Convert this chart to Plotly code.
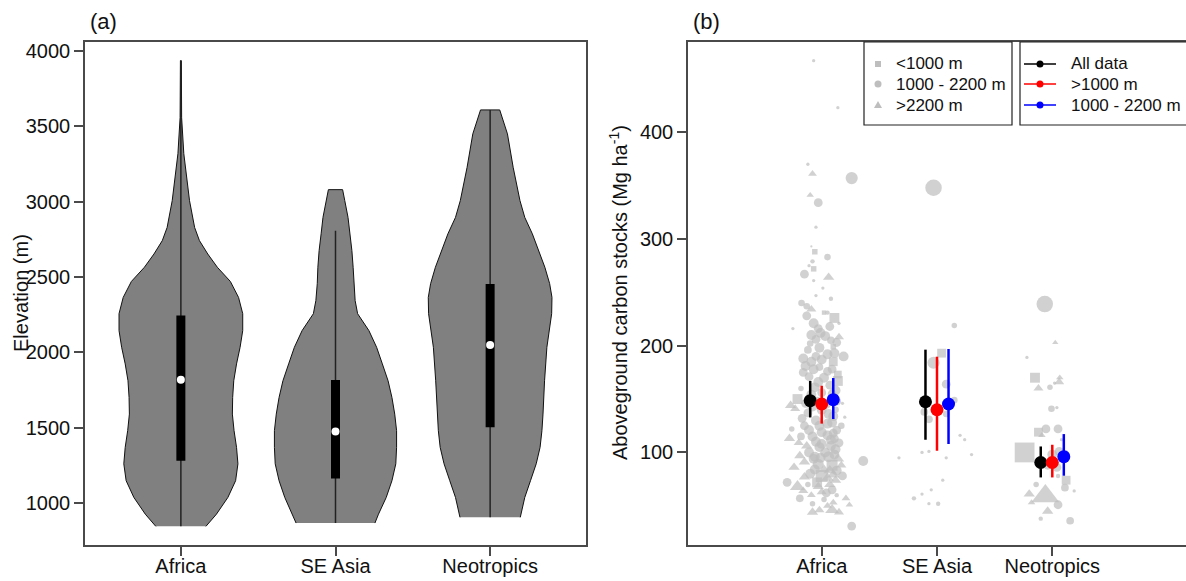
import plotly.graph_objects as go

W, H = 1186, 581

# ---------------- data: panel (a) violins (elevation, half-width) ----------------
regions = ["Africa", "SE Asia", "Neotropics"]
reg_pos = [1, 2, 3]

afr_elev = [845, 926, 1037, 1148, 1260, 1369, 1480, 1590, 1700, 1811, 1923, 2033, 2144, 2256,
            2364, 2470, 2564, 2652, 2741, 2828, 3006, 3186, 3318, 3557, 3935]
afr_hw = [0.162, 0.23, 0.304, 0.354, 0.369, 0.36, 0.344, 0.333, 0.335, 0.342, 0.36, 0.383, 0.40, 0.40,
          0.373, 0.32, 0.236, 0.174, 0.12, 0.089, 0.056, 0.035, 0.019, 0.005, 0.003]

sea_elev = [867, 926, 1037, 1148, 1260, 1369, 1480, 1590, 1700, 1811, 1923, 2033, 2144, 2256,
            2343, 2455, 2564, 2675, 2786, 2895, 3006, 3079]
sea_hw = [0.255, 0.278, 0.328, 0.365, 0.39, 0.395, 0.395, 0.383, 0.365, 0.34, 0.303, 0.266, 0.216, 0.143,
          0.127, 0.118, 0.114, 0.106, 0.093, 0.081, 0.06, 0.046]

neo_elev = [905, 1037, 1148, 1260, 1369, 1480, 1590, 1811, 2033, 2144, 2256, 2364, 2455, 2564,
            2675, 2786, 2895, 3006, 3227, 3449, 3608]
neo_hw = [0.195, 0.224, 0.261, 0.298, 0.323, 0.335, 0.342, 0.352, 0.367, 0.381, 0.398, 0.40, 0.385, 0.354,
          0.311, 0.273, 0.224, 0.193, 0.149, 0.112, 0.062]

# whisker min / max, quartiles, median
elev_wlo = [845, 867, 905]
elev_whi = [3935, 2807, 3608]
elev_q1 = [1281, 1163, 1502]
elev_q3 = [2244, 1816, 2453]
elev_med = [1818, 1475, 2048]

# ---------------- data: panel (b) plots (jitter offset, AGC, marker size, shape) ----------------
# shape: s = <1000 m, c = 1000-2200 m, t = >2200 m
afr_off = [-0.07, 0.14, -0.12, -0.08, 0.26, -0.10, -0.03, -0.05, -0.09, -0.06, 0.05, -0.08, -0.11, -0.07,
           -0.15, 0.06, -0.07, 0.01, -0.05, 0.08, -0.175, -0.13, -0.09, 0.02, 0.05, 0.11, 0.15, -0.25,
           -0.07, -0.03, -0.01, 0.03, -0.05, 0.15, 0.08, -0.10, 0.10, 0.11, -0.12, 0.19, -0.16, -0.05,
           0.0, 0.10, -0.14, -0.07, -0.02, 0.05, 0.14, 0.14, -0.11, -0.03, 0.07, -0.18, 0.12, 0.0,
           -0.09, -0.21, -0.27, -0.23, 0.18, 0.0, -0.12, 0.10, 0.20, -0.05, 0.05, -0.15, 0.13, -0.26,
           0.0, -0.08, -0.28, -0.20, 0.08, 0.15, -0.02, 0.12, 0.03, -0.11, 0.36, -0.19, 0.06, 0.14,
           -0.15, -0.03, 0.09, -0.24, 0.02, 0.13, -0.10, 0.0, 0.05, 0.10, -0.30, -0.21, -0.12, -0.16,
           0.0, 0.09, -0.09, 0.21, 0.02, 0.13, -0.08, -0.08, 0.09, 0.05, 0.15, 0.26, 0.24, 0.04,
           0.08, -0.04, 0.12, -0.18, 0.17, 0.10, -0.06, 0.07, -0.04,
           -0.13, 0.07, -0.09, 0.13, -0.02, 0.05, -0.09, 0.09, -0.16, 0.02, -0.06, 0.09, -0.14, 0.13,
           -0.08, 0.06, -0.17, -0.02, 0.09, -0.11, 0.05, -0.05, 0.11, -0.13, 0.00, 0.08, -0.07, 0.11,
           -0.01, 0.17, -0.06, 0.07, -0.15, 0.12, -0.03, 0.04, -0.19, 0.10, -0.02, 0.18]
afr_val = [467, 423, 370, 361, 357, 341, 334, 311, 293, 288, 283, 279, 275, 272,
           267, 264, 261, 254, 247, 244, 240, 237, 234, 231, 231, 226, 221, 216,
           221, 216, 212, 209, 206, 208, 205, 202, 199, 193, 196, 190, 188, 190,
           187, 185, 181, 178, 180, 176, 173, 167, 171, 166, 163, 160, 158, 156,
           154, 150, 144, 141, 146, 140, 137, 134, 133, 130, 127, 125, 121, 122,
           119, 115, 113, 109, 112, 109, 105, 103, 100, 100, 92, 97, 96, 94,
           91, 89, 88, 86, 84, 83, 80, 78, 76, 79, 72, 68, 70, 64,
           63, 65, 60, 57, 56, 60, 52, 44, 46, 50, 44, 31, 51, 145,
           150, 148, 140, 115, 125, 118, 96, 70, 72,
           228, 218, 210, 203, 198, 192, 185, 178, 175, 170, 161, 155, 146, 148,
           143, 136, 132, 125, 128, 121, 116, 110, 113, 106, 108, 106, 94, 98,
           95, 88, 84, 83, 77, 74, 68, 62, 57, 53, 46, 78]
afr_size = [3, 3, 3, 7, 11, 6, 8, 3, 2, 5, 6, 4, 3, 5,
            8, 9, 3, 3, 3, 4, 6, 6, 8, 4, 4, 9, 3, 3,
            9, 8, 9, 9, 8, 8, 7, 6, 5, 9, 7, 9, 9, 8,
            9, 8, 9, 9, 7, 8, 7, 9, 8, 9, 8, 5, 9, 8,
            9, 9, 9, 8, 3, 9, 8, 9, 3, 9, 9, 8, 8, 5,
            9, 9, 9, 8, 9, 8, 9, 9, 9, 9, 9, 9, 10, 10,
            9, 10, 10, 9, 9, 9, 9, 11, 10, 10, 8, 12, 5, 8,
            8, 8, 7, 7, 5, 4, 5, 9, 11, 7, 8, 8, 6, 8,
            7, 8, 6, 7, 6, 8, 9, 9, 9,
            8, 8, 9, 8, 9, 9, 9, 8, 8, 9, 9, 8, 8, 8,
            9, 9, 8, 9, 9, 9, 9, 9, 8, 9, 9, 9, 9, 9,
            9, 8, 9, 10, 9, 9, 9, 8, 7, 7, 8, 8]
afr_shape = ["c", "c", "c", "t", "c", "t", "c", "c", "c", "s", "c", "c", "c", "s",
             "c", "t", "c", "c", "c", "c", "c", "c", "t", "s", "c", "s", "c", "c",
             "c", "c", "c", "c", "c", "t", "c", "c", "s", "c", "c", "c", "c", "c",
             "c", "s", "c", "c", "c", "c", "s", "s", "c", "c", "c", "c", "c", "c",
             "c", "s", "t", "t", "c", "c", "c", "c", "c", "c", "c", "c", "c", "c",
             "c", "c", "t", "t", "c", "c", "c", "c", "c", "c", "c", "t", "c", "t",
             "t", "c", "s", "t", "t", "c", "c", "s", "t", "t", "c", "t", "c", "t",
             "t", "c", "t", "t", "c", "c", "c", "t", "t", "t", "t", "c", "t", "c",
             "c", "c", "c", "c", "c", "c", "c", "t", "s",
             "c", "c", "c", "c", "c", "c", "c", "c", "c", "c", "c", "c", "c", "c",
             "c", "c", "c", "c", "c", "c", "c", "c", "c", "t", "c", "c", "c", "c",
             "c", "t", "c", "t", "t", "t", "t", "c", "c", "t", "t", "c"]

sea_off = [-0.03, 0.15, 0.04, -0.03, 0.08, 0.15, 0.10, -0.11, -0.07, 0.08, 0.20, -0.13, -0.07, 0.08,
           0.30, -0.33, 0.05, -0.05, -0.20, -0.13, 0.01, -0.07, 0.24]
sea_val = [348, 219, 193, 184, 164, 149, 144, 138, 131, 136, 116, 100, 101, 95,
           98, 95, 74, 65, 57, 61, 52, 52, 112]
sea_size = [15, 5, 8, 11, 8, 6, 6, 7, 7, 6, 3, 3, 3, 3,
            3, 3, 3, 3, 4, 3, 4, 3, 3]
sea_shape = ["c", "c", "s", "c", "c", "c", "c", "c", "c", "c", "c", "c", "c", "c",
             "c", "c", "c", "c", "c", "c", "c", "c", "c"]

neo_off = [-0.065, 0.026, -0.22, -0.15, -0.12, -0.02, 0.065, 0.06, 0.02, -0.007, 0.04, -0.055, 0.05,
           -0.12, -0.09, -0.24, 0.0, 0.06, 0.12, 0.12, -0.04, 0.04, -0.08, -0.20, -0.06, -0.18,
           0.05, -0.04, 0.11, 0.19, 0.155, -0.10, 0.05, 0.08, -0.14]
neo_val = [239, 203, 189, 170, 160, 161, 170, 166, 165, 141, 142, 122, 122,
           119, 116, 100, 98, 101, 100, 74, 88, 86, 92, 61, 59, 53,
           51, 45, 67, 64, 36, 38, 78, 112, 70]
neo_size = [15, 5, 3, 9, 8, 5, 6, 8, 3, 6, 3, 8, 8,
            8, 6, 18, 9, 8, 4, 8, 8, 8, 6, 9, 22, 6,
            8, 9, 7, 3, 7, 4, 4, 3, 5]
neo_shape = ["c", "t", "c", "s", "t", "c", "t", "t", "c", "c", "c", "c", "c",
             "s", "t", "s", "c", "c", "c", "s", "c", "c", "c", "t", "t", "t",
             "c", "t", "c", "c", "c", "c", "c", "c", "c"]

# means and 95% intervals: [All data, >1000 m, 1000-2200 m]
series_names = ["All data", ">1000 m", "1000 - 2200 m"]
series_colors = ["#000000", "#FF0000", "#0000FF"]
agc_mean = [[148.5, 147.5, 90.6], [145.4, 140.0, 90.6], [149.4, 145.4, 96.0]]
agc_lo = [[132.8, 111.9, 76.6], [127.0, 101.6, 76.6], [131.3, 107.9, 78.2]]
agc_hi = [[167.0, 196.3, 105.6], [162.5, 189.7, 107.2], [169.7, 196.9, 117.2]]

shape_names = ["<1000 m", "1000 - 2200 m", ">2200 m"]

# ---------------- figure ----------------
FONT = "Liberation Sans, Arial, sans-serif"
AX = "#4a4a4a"
GREY = "#BEBEBE"
sym = {"s": "square", "c": "circle", "t": "triangle-up"}

fig = go.Figure()

def px(x):
    return x / W

def py(y):
    return 1 - y / H

# Panel (a)
for i, (el, hw) in enumerate([(afr_elev, afr_hw), (sea_elev, sea_hw), (neo_elev, neo_hw)]):
    c = reg_pos[i]
    xs = [c + h for h in hw] + [c - h for h in reversed(hw)]
    ys = list(el) + list(reversed(el))
    fig.add_trace(go.Scatter(x=xs, y=ys, fill="toself", fillcolor="#808080", mode="lines",
                             line=dict(color="#111111", width=1), xaxis="x", yaxis="y",
                             showlegend=False, hoverinfo="skip"))
    fig.add_trace(go.Scatter(x=[c, c], y=[elev_wlo[i], elev_whi[i]], mode="lines",
                             line=dict(color="#222222", width=1.5), xaxis="x", yaxis="y",
                             showlegend=False, hoverinfo="skip"))
    fig.add_trace(go.Scatter(x=[c, c], y=[elev_q1[i], elev_q3[i]], mode="lines",
                             line=dict(color="#000000", width=9), xaxis="x", yaxis="y",
                             showlegend=False, hoverinfo="skip"))
    fig.add_trace(go.Scatter(x=[c], y=[elev_med[i]], mode="markers",
                             marker=dict(color="white", size=8), xaxis="x", yaxis="y",
                             showlegend=False, hoverinfo="skip"))

# Panel (b) grey points
for i, (off, val, size, shp) in enumerate([(afr_off, afr_val, afr_size, afr_shape),
                                             (sea_off, sea_val, sea_size, sea_shape),
                                             (neo_off, neo_val, neo_size, neo_shape)]):
    c = reg_pos[i]
    fig.add_trace(go.Scatter(x=[c + o for o in off], y=val, mode="markers",
                             marker=dict(color=GREY, size=[s * 1.1 for s in size],
                                         symbol=[sym[k] for k in shp], line=dict(width=0)),
                             xaxis="x2", yaxis="y2", showlegend=False))

# Panel (b) means with intervals
dodge = [-0.1, 0.0, 0.1]
for j in range(3):
    m = agc_mean[j]
    fig.add_trace(go.Scatter(
        x=[reg_pos[i] + dodge[j] for i in range(3)], y=m, mode="markers",
        marker=dict(color=series_colors[j], size=13),
        error_y=dict(type="data", symmetric=False,
                     array=[agc_hi[j][i] - m[i] for i in range(3)],
                     arrayminus=[m[i] - agc_lo[j][i] for i in range(3)],
                     color=series_colors[j], thickness=2.5, width=0),
        xaxis="x2", yaxis="y2", showlegend=False, name=series_names[j]))

axis_common = dict(showline=True, linecolor=AX, linewidth=1.5, ticks="outside", ticklen=9,
                   tickwidth=1.5, tickcolor=AX, showgrid=False, zeroline=False,
                   tickfont=dict(family=FONT, size=20, color="#111111"), automargin=False)

ydom = [py(545), py(42)]
fig.update_layout(
    width=W, height=H, margin=dict(l=0, r=0, t=0, b=0),
    paper_bgcolor="white", plot_bgcolor="white",
    font=dict(family=FONT, color="#111111"),
    xaxis=dict(domain=[px(85), px(586)], range=[0.38, 3.62], tickvals=reg_pos, ticktext=regions,
               anchor="y", mirror=True, ticklabelstandoff=-7, **axis_common),
    yaxis=dict(domain=ydom, range=[721.4, 4058.6], tickvals=[1000, 1500, 2000, 2500, 3000, 3500, 4000],
               anchor="x", mirror=True, **axis_common),
    xaxis2=dict(domain=[px(688), 1.0], range=[-0.16, 4.16], tickvals=reg_pos, ticktext=regions,
                anchor="y2", mirror=True, ticklabelstandoff=-7, **axis_common),
    yaxis2=dict(domain=ydom, range=[13.3, 484.5], tickvals=[100, 200, 300, 400],
                anchor="x2", mirror=False, **axis_common),
    showlegend=False,
)

ann = []
ann.append(dict(text="(a)", x=px(88), y=py(21), xref="paper", yref="paper", xanchor="left",
                yanchor="middle", showarrow=False, font=dict(family=FONT, size=22)))
ann.append(dict(text="(b)", x=px(691), y=py(21), xref="paper", yref="paper", xanchor="left",
                yanchor="middle", showarrow=False, font=dict(family=FONT, size=22)))
ann.append(dict(text="Elevation (m)", x=px(21), y=py(293), xref="paper", yref="paper",
                xanchor="center", yanchor="middle",
                textangle=-90, showarrow=False, font=dict(family=FONT, size=20)))
ann.append(dict(text="Aboveground carbon stocks (Mg ha<sup>-1</sup>)", x=px(618), y=py(293),
                xref="paper", yref="paper", xanchor="center", yanchor="middle",
                textangle=-90, showarrow=False, font=dict(family=FONT, size=20)))

shapes = []
# legend boxes
shapes.append(dict(type="rect", xref="paper", yref="paper", x0=px(864), x1=px(1012), y0=py(125), y1=py(42),
                   line=dict(color="#222222", width=1.2), fillcolor="white"))
shapes.append(dict(type="rect", xref="paper", yref="paper", x0=px(1020), x1=px(1196), y0=py(125), y1=py(42),
                   line=dict(color="#222222", width=1.2), fillcolor="white"))
rows = [64, 84, 105]
# left legend symbols
lx = 878
shapes.append(dict(type="rect", xref="paper", yref="paper", x0=px(lx - 3), x1=px(lx + 3),
                   y0=py(rows[0] + 3), y1=py(rows[0] - 3), line=dict(width=0), fillcolor=GREY))
shapes.append(dict(type="circle", xref="paper", yref="paper", x0=px(lx - 3.5), x1=px(lx + 3.5),
                   y0=py(rows[1] + 3.5), y1=py(rows[1] - 3.5), line=dict(width=0), fillcolor=GREY))
tri = "M {},{} L {},{} L {},{} Z".format(px(lx - 4), py(rows[2] + 3), px(lx + 4), py(rows[2] + 3),
                                        px(lx), py(rows[2] - 4))
shapes.append(dict(type="path", xref="paper", yref="paper", path=tri, line=dict(width=0), fillcolor=GREY))
for k in range(3):
    ann.append(dict(text=shape_names[k], x=px(894), y=py(rows[k]), xref="paper", yref="paper",
                    xanchor="left", yanchor="middle", showarrow=False, font=dict(family=FONT, size=17)))
# right legend symbols
for k in range(3):
    shapes.append(dict(type="line", xref="paper", yref="paper", x0=px(1024), x1=px(1056),
                       y0=py(rows[k]), y1=py(rows[k]), line=dict(color=series_colors[k], width=1.5)))
    shapes.append(dict(type="circle", xref="paper", yref="paper", x0=px(1036.5), x1=px(1043.5),
                       y0=py(rows[k] + 3.5), y1=py(rows[k] - 3.5), line=dict(width=0),
                       fillcolor=series_colors[k]))
    ann.append(dict(text=series_names[k], x=px(1069), y=py(rows[k]), xref="paper", yref="paper",
                    xanchor="left", yanchor="middle", showarrow=False, font=dict(family=FONT, size=17)))

fig.update_layout(annotations=ann, shapes=shapes)
fig.write_html("out.html")
